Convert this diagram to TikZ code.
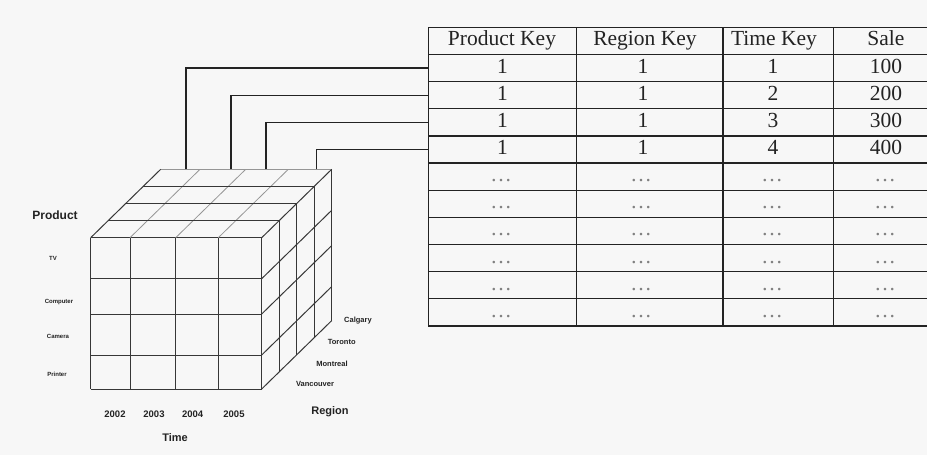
\documentclass[tikz,border=0pt]{standalone}
\usepackage{fontspec}
\setmainfont{Liberation Serif}
\newfontfamily\labfont{Liberation Sans}
\definecolor{bg}{RGB}{247,247,247}
\definecolor{ink}{RGB}{35,35,35}
\definecolor{cubeline}{RGB}{55,55,55}
\definecolor{faint}{RGB}{150,150,150}
\begin{document}
\begin{tikzpicture}[x=1pt,y=-1pt,
  cell/.style={inner sep=0pt, minimum height=27.15pt, text height=15pt, text depth=5pt, text=ink, font=\fontsize{21.5}{24}\selectfont},
  dotcell/.style={cell, text=gray},
  grid/.style={draw=ink, line width=1.2pt},
  cube/.style={draw=cubeline, line width=1pt},
  faintline/.style={draw=faint, line width=0.8pt},
  conn/.style={draw=ink, line width=1.1pt},
  axis/.style={inner sep=0pt, text=ink, font=\labfont\bfseries\fontsize{11}{12}\selectfont},
  tick/.style={inner sep=0pt, text=ink, font=\labfont\bfseries\fontsize{6}{7}\selectfont},
  regtick/.style={inner sep=0pt, text=ink, font=\labfont\bfseries\fontsize{7.5}{8}\selectfont},
  year/.style={inner sep=0pt, text=ink, font=\labfont\bfseries\fontsize{9.5}{10}\selectfont}]
\useasboundingbox (0,0) rectangle (927,455);
\fill[bg] (0,0) rectangle (927,455);

% ---- table grid ----
\foreach \i in {0,...,11} \draw[grid] (428.3,27.3+27.15*\i) -- (927,27.3+27.15*\i);
\foreach \x in {428.3,576.7,723,833.3} \draw[grid] (\x,27.3) -- (\x,325.95);

% ---- header ----
\node[cell] (h1) at (502,40.9) {Product Key};
\node[cell] (h2) at (645,40.9) {Region Key};
\node[cell] (h3) at (774,40.9) {Time Key};
\node[cell] (h4) at (886,40.9) {Sale};

% ---- data rows ----
\foreach \r/\t/\s in {1/1/100,2/2/200,3/3/300,4/4/400} {
  \node[cell, minimum width=148.4pt] (c\r-1) at (502.5,{27.3+27.15*(\r+0.5)}) {1};
  \node[cell] (c\r-2) at (643,{27.3+27.15*(\r+0.5)}) {1};
  \node[cell] (c\r-3) at (773,{27.3+27.15*(\r+0.5)}) {\t};
  \node[cell] (c\r-4) at (886,{27.3+27.15*(\r+0.5)}) {\s};
}
\foreach \r in {5,...,10} {
  \node[dotcell] (c\r-1) at (501,{27.3+27.15*(\r+0.5)}) {…};
  \node[dotcell] (c\r-2) at (641,{27.3+27.15*(\r+0.5)}) {…};
  \node[dotcell] (c\r-3) at (772,{27.3+27.15*(\r+0.5)}) {…};
  \node[dotcell] (c\r-4) at (885,{27.3+27.15*(\r+0.5)}) {…};
}

% ---- cube ----
% front face
\foreach \x in {90.7,130,175.7,218.3,261.7} \draw[cube] (\x,237.7) -- (\x,389);
\foreach \y in {237.7,278.7,314,355,389} \draw[cube] (90.7,\y) -- (261.7,\y);
% top face
\draw[faintline] (130,237.7) -- (200,169.3);
\draw[faintline] (175.7,237.7) -- (245.7,169.3);
\draw[faintline] (218.3,237.7) -- (288.3,169.3);
\foreach \k in {1,2,3} \draw[cube] ({90.7+17.5*\k},{237.7-17.1*\k}) -- ({261.7+17.5*\k},{237.7-17.1*\k});
\draw[cube, draw=faint] (160.7,169.3) -- (331.7,169.3);
\draw[cube] (90.7,237.7) -- (160.7,169.3);
% right face
\foreach \k in {1,2,3,4} \draw[cube] ({261.7+17.5*\k},{237.7-17.1*\k}) -- ({261.7+17.5*\k},{389-17.1*\k});
\foreach \y in {237.7,278.7,314,355,389} \draw[cube] (261.7,\y) -- (331.7,\y-68.4);

% ---- connectors ----
\coordinate (p1) at (186,169.3);
\coordinate (p2) at (231,169.3);
\coordinate (p3) at (266,169.3);
\coordinate (p4) at (316.7,169.3);
\draw[conn] (p1) |- (c1-1.west);
\draw[conn] (p2) |- (c2-1.west);
\draw[conn] (p3) |- (c3-1.west);
\draw[conn] (p4) |- (c4-1.west);

% ---- labels ----
\node[axis, font=\labfont\bfseries\fontsize{12}{13}\selectfont] (lprod) at (55,215) {Product};
\node[tick] (ltv) at (53,258) {TV};
\node[tick] (lcomp) at (59,301.7) {Computer};
\node[tick] (lcam) at (58,336.7) {Camera};
\node[tick] (lprint) at (57,374) {Printer};
\node[year] (y2) at (115,414.3) {2002};
\node[year] (y3) at (154,414.3) {2003};
\node[year] (y4) at (192.7,414.3) {2004};
\node[year] (y5) at (234,414.3) {2005};
\node[axis] (ltime) at (175,438) {Time};
\node[axis] (lreg) at (330,412) {Region};
\node[regtick] (lcal) at (358,321) {Calgary};
\node[regtick] (ltor) at (341.7,341.7) {Toronto};
\node[regtick] (lmon) at (332,364) {Montreal};
\node[regtick] (lvan) at (315,384.3) {Vancouver};
\end{tikzpicture}
\end{document}
